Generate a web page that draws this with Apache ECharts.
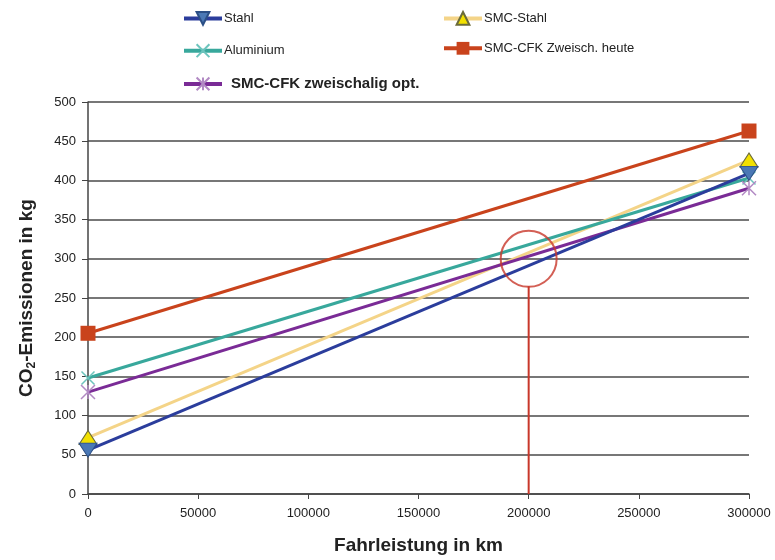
<!DOCTYPE html>
<html>
<head>
<meta charset="utf-8">
<script src="https://cdn.jsdelivr.net/npm/echarts@6/dist/echarts.min.js"></script>
<style>html,body{margin:0;padding:0;background:#fff;}#c{width:775px;height:560px;}</style>
</head>
<body>
<div id="c"></div>
<script>
// Mileage points (km)
const distances = [0, 300000];
// CO2 emissions (kg) per body variant
const stahl = [56, 409];
const smcStahl = [72, 426];
const aluminium = [148, 403];
const cfkHeute = [205, 463];
const cfkOpt = [130, 390];
// Break-even marker
const breakEvenKm = 200000;
const breakEvenKg = 300;
const yTicks = [0, 50, 100, 150, 200, 250, 300, 350, 400, 450, 500];
const xTicks = [0, 50000, 100000, 150000, 200000, 250000, 300000];

const pts = arr => distances.map((d, i) => [d, arr[i]]);
const font = '"Liberation Sans", Arial, sans-serif';

const chart = echarts.init(document.getElementById('c'), null, {renderer: 'canvas'});

function lineSeries(name, data, color, symbol, size, symColor, symBorder, rot, z) {
  return {
    name, type: 'line', data: pts(data),
    lineStyle: {color, width: 3},
    itemStyle: {color: symColor, borderColor: symBorder, borderWidth: symBorder ? 1 : 0},
    symbol, symbolSize: size, symbolRotate: rot || 0,
    showAllSymbol: true, z: z || 3, animation: false
  };
}

const crossPath = 'path://M0,0L10,10M10,0L0,10';
const starPath = 'path://M0,0L10,10M10,0L0,10M5,0L5,10';

const series = [
  lineSeries('Stahl', stahl, '#2b3d9c', 'triangle', [18, 14], '#4a78b5', '#2b4f86', 180, 4),
  lineSeries('SMC-Stahl', smcStahl, '#f4d488', 'triangle', [18, 14], '#f2e000', '#6b6b3a', 0, 3),
  Object.assign(lineSeries('Aluminium', aluminium, '#38a89c', crossPath, 13, '#38a89c', '#6cc4bd', 0),
    {itemStyle: {color: 'none', borderColor: '#6cc4bd', borderWidth: 1.5}}),
  lineSeries('SMC-CFK Zweisch. heute', cfkHeute, '#c9431c', 'rect', 15, '#c9431c', null, 0),
  Object.assign(lineSeries('SMC-CFK zweischalig opt.', cfkOpt, '#7a2b96', starPath, 14, '#b28ac4', '#b28ac4', 0),
    {itemStyle: {color: 'none', borderColor: '#b28ac4', borderWidth: 1.5}}),
  {
    type: 'line', data: [[breakEvenKm, 0], [breakEvenKm, breakEvenKg - 35]],
    lineStyle: {color: '#c8372a', width: 2}, symbol: 'none', z: 5, silent: true, animation: false
  },
  {
    type: 'scatter', data: [[breakEvenKm, breakEvenKg]],
    symbol: 'circle', symbolSize: 56,
    itemStyle: {color: 'rgba(0,0,0,0)', borderColor: '#c8372a', borderWidth: 2},
    z: 5, silent: true, animation: false
  }
];

const legendBase = {
  orient: 'vertical', itemWidth: 38, itemHeight: 16, itemGap: 16,
  lineStyle: {width: 4},
  textStyle: {fontFamily: font, fontSize: 13, color: '#222', padding: [0, 0, 0, -3]},
  selectedMode: false
};

chart.setOption({
  animation: false,
  backgroundColor: '#fff',
  legend: [
    Object.assign({}, legendBase, {left: 177, top: 6, data: ['Stahl', 'Aluminium']}),
    Object.assign({}, legendBase, {left: 437, top: 6, data: ['SMC-Stahl', 'SMC-CFK Zweisch. heute']}),
    Object.assign({}, legendBase, {left: 177, top: 70, data: ['SMC-CFK zweischalig opt.'],
      textStyle: {fontFamily: font, fontSize: 15, fontWeight: 'bold', color: '#222', padding: [0, 0, 0, 4]}})
  ],
  grid: {left: 88, right: 26, top: 102, bottom: 66, containLabel: false, outerBoundsMode: 'none'},
  xAxis: {
    type: 'value', min: 0, max: 300000, interval: 50000,
    name: 'Fahrleistung in km', nameLocation: 'middle', nameGap: 42,
    nameTextStyle: {fontFamily: font, fontSize: 19, fontWeight: 'bold', color: '#222'},
    axisLine: {show: true, lineStyle: {color: '#444', width: 1.5}},
    axisTick: {show: true, length: 5, lineStyle: {color: '#444'}},
    axisLabel: {fontFamily: font, fontSize: 13, color: '#222', margin: 13, formatter: v => String(v)},
    splitLine: {show: false}
  },
  yAxis: {
    type: 'value', min: 0, max: 500, interval: 50,
    name: '{a|CO}{s|2}{a|-Emissionen in kg}', nameLocation: 'middle', nameGap: 50, nameRotate: 90,
    nameTextStyle: {
      rich: {
        a: {fontFamily: font, fontSize: 19, fontWeight: 'bold', color: '#222'},
        s: {fontFamily: font, fontSize: 12, fontWeight: 'bold', color: '#222', verticalAlign: 'bottom', padding: [10, 0, 0, 0]}
      }
    },
    axisLine: {show: true, lineStyle: {color: '#444', width: 1.5}},
    axisTick: {show: true, length: 6, lineStyle: {color: '#444'}},
    axisLabel: {fontFamily: font, fontSize: 13, color: '#222', margin: 12},
    splitLine: {show: true, lineStyle: {color: '#4a4a4a', width: 1.5}}
  },
  series
});
</script>
</body>
</html>
